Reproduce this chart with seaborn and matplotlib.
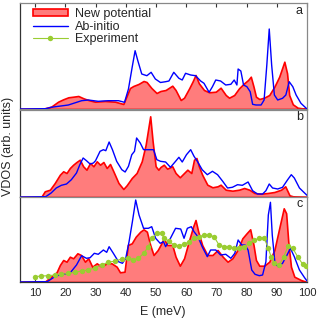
import numpy as np
import seaborn as sns
import matplotlib.pyplot as plt

# VDOS, three panels: a, b, c  (energy in meV, intensity in arb. units)

e_a_new = [5, 12.6, 15.3, 17.6, 19.3, 21, 22.6, 24.3, 26, 27.6, 29.8, 33.1, 36.5, 39.2, 40.2, 41.4, 42.5,
           44.2, 45.9, 46.9, 48.5, 50.2, 51.5, 53.2, 55.4, 56.5, 58.2, 59.3, 61, 62.1, 63.1, 64.2, 65.9,
           67.6, 69.8, 71.4, 73.1, 74.2, 75.9, 77.5, 79.2, 80.5, 81.4, 82.3, 83.1, 84.2, 85.8, 87.5, 89.2,
           90.8, 92.5, 93.4, 94.1, 95.3, 96.9, 100]
v_a_new = [0, 0.3, 2.3, 7.3, 9.7, 11.7, 12.3, 13, 10.7, 9, 7.3, 8, 7.3, 5, 12.3, 21, 23,
           25, 28, 27, 21, 16, 18, 19, 23.3, 19, 9, 11.3, 20.7, 27.3, 34, 25.7, 19,
           16.7, 17.3, 21.3, 14, 11.3, 14, 20.7, 25.7, 29, 32.3, 22.3, 12.3, 10, 11.3, 14, 22.3,
           32.3, 47.3, 35.7, 14, 4.7, 1.3, 0]

e_a_abi = [5, 13.5, 15.3, 21, 25.4, 27.6, 30.9, 34.2, 37.6, 39.6, 40.9, 42.2, 43.1, 44, 45.3, 47, 48.4,
           49.8, 51.5, 53.2, 54.3, 55.9, 57.6, 58.7, 59.8, 61.5, 63.1, 64.8, 65.9, 67.6, 68.7, 69.8, 71.4,
           73.1, 74.8, 75.9, 76.8, 77.2, 78.1, 79, 80.1, 81.2, 82, 83.1, 84.8, 85.8, 86.7, 87.5, 88.3,
           89.2, 90.3, 91.9, 93, 94.1, 95.3, 96.4, 98, 100]
v_a_abi = [0, 0.3, 1.7, 4, 8.3, 9, 7.7, 8.3, 8.3, 6.7, 20, 43, 58.3, 48.3, 35, 33.3, 36.7,
           30, 26.5, 27.3, 28, 36.7, 30.7, 29, 35.7, 34, 33.3, 28, 25.7, 16.7, 22.3, 29, 28,
           24, 24.7, 29, 24, 40, 38, 24, 22.3, 17.3, 4.7, 4, 4, 9, 44, 80, 44,
           14, 9, 10.7, 14, 27.3, 22.3, 14, 5.7, 0]

e_b_new = [5, 12.1, 13.2, 14.9, 16.5, 18.2, 19.3, 20.4, 21.5, 22.6, 23.7, 24.8, 25.9, 27, 28.2, 29.3,
           30.4, 31.5, 32.6, 33.7, 34.8, 35.9, 37.6, 39.2, 40.3, 42, 43.6, 45.3, 46.6, 48.1, 48.9, 49.9,
           50.8, 51.5, 52.6, 53.7, 55.4, 56.5, 57.9, 59.3, 60.4, 61.7, 62.6, 63.4, 64.2, 65.3, 67, 68.7,
           70.4, 71.4, 73.1, 75.3, 77.5, 79.2, 80.9, 82.6, 84.8, 87, 89.2, 91.4, 92.8, 94.2, 95.8, 100]
v_b_new = [0, 0.3, 5.7, 7.3, 14, 22.3, 25.7, 24, 29, 32.3, 35, 37.3, 30.7, 27.3, 34, 30.7,
           35.7, 32.3, 35, 29, 33, 25.7, 14, 8, 11.7, 19, 24, 35.7, 52.3, 80.7, 55.7, 30.7,
           27.3, 30, 32.3, 28.3, 30.7, 24, 19.7, 24, 27.3, 24, 37.3, 39, 30.7, 22.3, 12.3, 9.7,
           10.7, 12.3, 7.3, 6.3, 7.3, 9, 7.3, 4, 3.3, 4, 5, 7.3, 10.7, 1.7, 0.3, 0]

e_b_abi = [5, 13.5, 15.3, 17, 18.7, 20.4, 22, 23.7, 24.8, 25.9, 27, 28.2, 29.3, 30, 31.5, 32.6, 33.4,
           34.5, 35.6, 37, 38.7, 39.8, 40.9, 42, 42.9, 43.6, 44.8, 45.9, 47.5, 49.2, 50.3, 51.5, 53.2,
           54.8, 56.5, 57.6, 58.7, 60.1, 61.5, 62.6, 63.7, 65.3, 67, 68.7, 70.4, 72.1, 73.7, 75.3, 77,
           78.6, 80.5, 82, 83.6, 85.3, 86.4, 87.5, 88.6, 90.3, 91.9, 93.6, 94.8, 95.8, 97.5, 99.2, 100]
v_b_abi = [0, 0.3, 4, 9, 11.7, 13, 17.3, 24, 32.3, 39, 36.3, 33, 34, 36.3, 45.7, 47.3, 46.3,
           55, 47.3, 35.7, 27.3, 25, 30.7, 42.3, 45.7, 59, 54, 47.3, 47.3, 47.3, 37.3, 35.7, 35,
           29.7, 35.7, 39.7, 35, 42.3, 47.3, 40.7, 35.7, 27.3, 22.3, 25.7, 22.3, 15.7, 9, 9.7, 12.3,
           11.7, 15, 6.3, 3, 3, 6.3, 13, 9, 8, 9.7, 17.3, 22.3, 19, 9, 4, 1.7]

e_c_new = [5, 13.2, 15.3, 17.1, 18.2, 19.3, 20.4, 21.5, 22.6, 24, 25.2, 26.5, 27.6, 28.9, 30.4, 32,
           33.7, 35.3, 37, 38.1, 39.6, 40.7, 42, 43.3, 44.8, 45.9, 47, 48.1, 49.2, 50.6, 51.5, 52.6,
           53.7, 55.4, 56.5, 57.9, 59.3, 61, 62.3, 63.1, 64, 65.3, 67, 68.7, 70.4, 72.1, 73.7, 75.3,
           77, 78.6, 80, 81.2, 82.3, 83.1, 84.2, 85.8, 87.5, 89.2, 90.8, 92.3, 93.1, 93.8, 94.7, 95.8,
           98, 100]
v_c_new = [0, 0.3, 5.3, 9.7, 17, 22, 20.3, 25.3, 23.7, 28.7, 27, 20.3, 23.7, 15.3, 18.7, 15.3,
           18.7, 18.7, 15.3, 9.7, 10.3, 37, 38.7, 45.3, 50.3, 52.7, 50.3, 37, 27, 32, 37, 43.7,
           37, 37, 25.3, 16.3, 23.7, 42, 55.3, 62, 50.3, 37, 27, 27, 32, 25.3, 20.3, 23.7,
           32, 43.7, 48.7, 52.7, 37, 22, 16.3, 16.3, 20.3, 32, 53.7, 73.7, 68.7, 40.3, 15.3, 5.3,
           2, 0]

e_c_abi = [5, 14, 16.5, 18.7, 21.5, 23.7, 25.4, 27, 28.2, 29.6, 30.9, 32.6, 33.7, 34.5, 35.9, 37.6,
           38.9, 40, 41.1, 42.2, 43.3, 44.4, 45.9, 47.5, 48.6, 49.9, 51.4, 52.5, 53.2, 54.8, 56.5, 58.2,
           59.3, 60.4, 61.7, 62.6, 63.9, 65.3, 67, 68.1, 69.8, 71.4, 73.1, 74.8, 76.1, 77.2, 78.4, 79.5,
           80.5, 81.7, 82.8, 84.2, 85.3, 86.4, 87.2, 87.9, 88.5, 89.4, 90.5, 91.9, 93.4, 94.5, 95.8, 97.5,
           99.2, 100]
v_c_abi = [0, 0.3, 5.3, 7.7, 8.7, 17, 26.3, 23.7, 24.3, 28.7, 27.7, 32, 29.7, 35.3, 28.7, 20.3,
           18.7, 23.7, 40.3, 60.3, 82, 67, 53.7, 53.7, 55.3, 43.7, 38.7, 40.3, 35.3, 43.7, 53.7, 53,
           43.7, 53.7, 55.3, 50.3, 45.3, 35.3, 25.3, 32, 32, 27, 27.7, 23.7, 28.7, 42, 37, 37,
           32, 12, 7.7, 6.3, 7, 20.3, 67, 79.7, 47, 18.7, 15.3, 18.7, 27, 33.7, 25.3, 12,
           4.3, 1]

e_exp = [9.9, 12.1, 14.3, 16.5, 18.7, 20.9, 23.2, 25.4, 27.6, 29.8, 32, 34.2, 36.5, 38.7, 40.9, 42.5,
         44.2, 45.9, 47.5, 48.6, 50.3, 51.9, 52.6, 54.3, 55.9, 57.6, 59.3, 61, 62.6, 64.3, 65.9, 67.6,
         69.2, 70.9, 72.6, 74.2, 75.9, 77.5, 79.2, 80.9, 82.5, 84.2, 85.8, 87.2, 88.1, 89.2, 90.8, 92.3,
         93.8, 95.3, 96.9, 98.6, 99.7]
v_exp = [5.3, 6, 6.3, 7, 7.7, 8.7, 9.7, 11, 12, 14.3, 17, 19.7, 21, 23, 24.3, 22,
         23.7, 28.7, 35.3, 43.7, 48.7, 48.7, 43.7, 41, 37, 36.3, 37.7, 40.3, 43.7, 45.3, 47, 47,
         45.3, 37, 35.3, 35.3, 33.7, 34.3, 35.3, 38.7, 42, 43.7, 44.3, 33.7, 25.3, 18.7, 17, 25.3,
         36.3, 33.7, 25.3, 17.7, 16]

ticks = [10, 20, 30, 40, 50, 60, 70, 80, 90, 100]

sns.set_theme(style="ticks")
plt.rcParams['font.family'] = ['Liberation Sans', 'DejaVu Sans']

RED_FILL = "#ff7c7c"
RED = "#ff0000"
BLUE = "#0000ff"
GREEN = "#9acd32"

fig = plt.figure(figsize=(3.18, 3.21), dpi=100)
L, W = 20 / 318, 287 / 318
ax_a = fig.add_axes([L, 1 - 109 / 321, W, 106 / 321])
ax_b = fig.add_axes([L, 1 - 197 / 321, W, 87 / 321])
ax_c = fig.add_axes([L, 1 - 282 / 321, W, 85 / 321])

panels = [(ax_a, e_a_new, v_a_new, e_a_abi, v_a_abi, 106, "a"),
          (ax_b, e_b_new, v_b_new, e_b_abi, v_b_abi, 87, "b"),
          (ax_c, e_c_new, v_c_new, e_c_abi, v_c_abi, 85, "c")]

for ax, en, vn, ea, va, top, letter in panels:
    ax.fill_between(en, vn, 0, facecolor=RED_FILL, edgecolor=RED, linewidth=1.2,
                    label="New potential", zorder=2)
    sns.lineplot(x=ea, y=va, ax=ax, color=BLUE, linewidth=1.0, estimator=None, sort=False,
                 label="Ab-initio", zorder=3)
    ax.set_xlim(5, 100)
    ax.set_ylim(0, top)
    ax.set_yticks([])
    ax.set_xticks(ticks)
    ax.set_xlabel("")
    ax.set_ylabel("")
    ax.text(0.985, 0.985, letter, transform=ax.transAxes, ha="right", va="top", fontsize=9,
            color="#222222")
    for s in ax.spines.values():
        s.set_color("#888888")
        s.set_linewidth(0.9)
    ax.spines["left"].set_color("#333333")
    if ax.get_legend():
        ax.get_legend().remove()

sns.lineplot(x=e_exp, y=v_exp, ax=ax_c, color=GREEN, linewidth=0.8, marker="o", markersize=3.9,
             markeredgewidth=0, estimator=None, sort=False, label="Experiment", zorder=4)
if ax_c.get_legend():
    ax_c.get_legend().remove()
ax_c.spines["bottom"].set_color("#333333")

ax_a.tick_params(axis="x", direction="in", top=True, bottom=False, labelbottom=False,
                 length=3, width=0.8, color="#333333")
ax_b.tick_params(axis="x", direction="in", top=False, bottom=False, labelbottom=False)
ax_c.tick_params(axis="x", direction="in", top=False, bottom=True, labelbottom=True,
                 length=3, width=0.8, labelsize=8, pad=4, color="#333333")

handles = [ax_a.collections[0], ax_a.get_lines()[0], ax_c.get_lines()[-1]]
ax_a.legend(handles, ["New potential", "Ab-initio", "Experiment"], loc="upper left",
            bbox_to_anchor=(0.035, 0.975), frameon=False, fontsize=9, handlelength=2.8,
            handleheight=0.5, handletextpad=0.6, labelspacing=0.05, borderpad=0.2,
            borderaxespad=0)

fig.text(163 / 318, 1 - 312 / 321, "E (meV)", ha="center", va="center", fontsize=9)
fig.text(8 / 318, 0.545, "VDOS (arb. units)", ha="center", va="center", rotation=90, fontsize=9)

plt.savefig("out.png", dpi=100)
plt.close()
